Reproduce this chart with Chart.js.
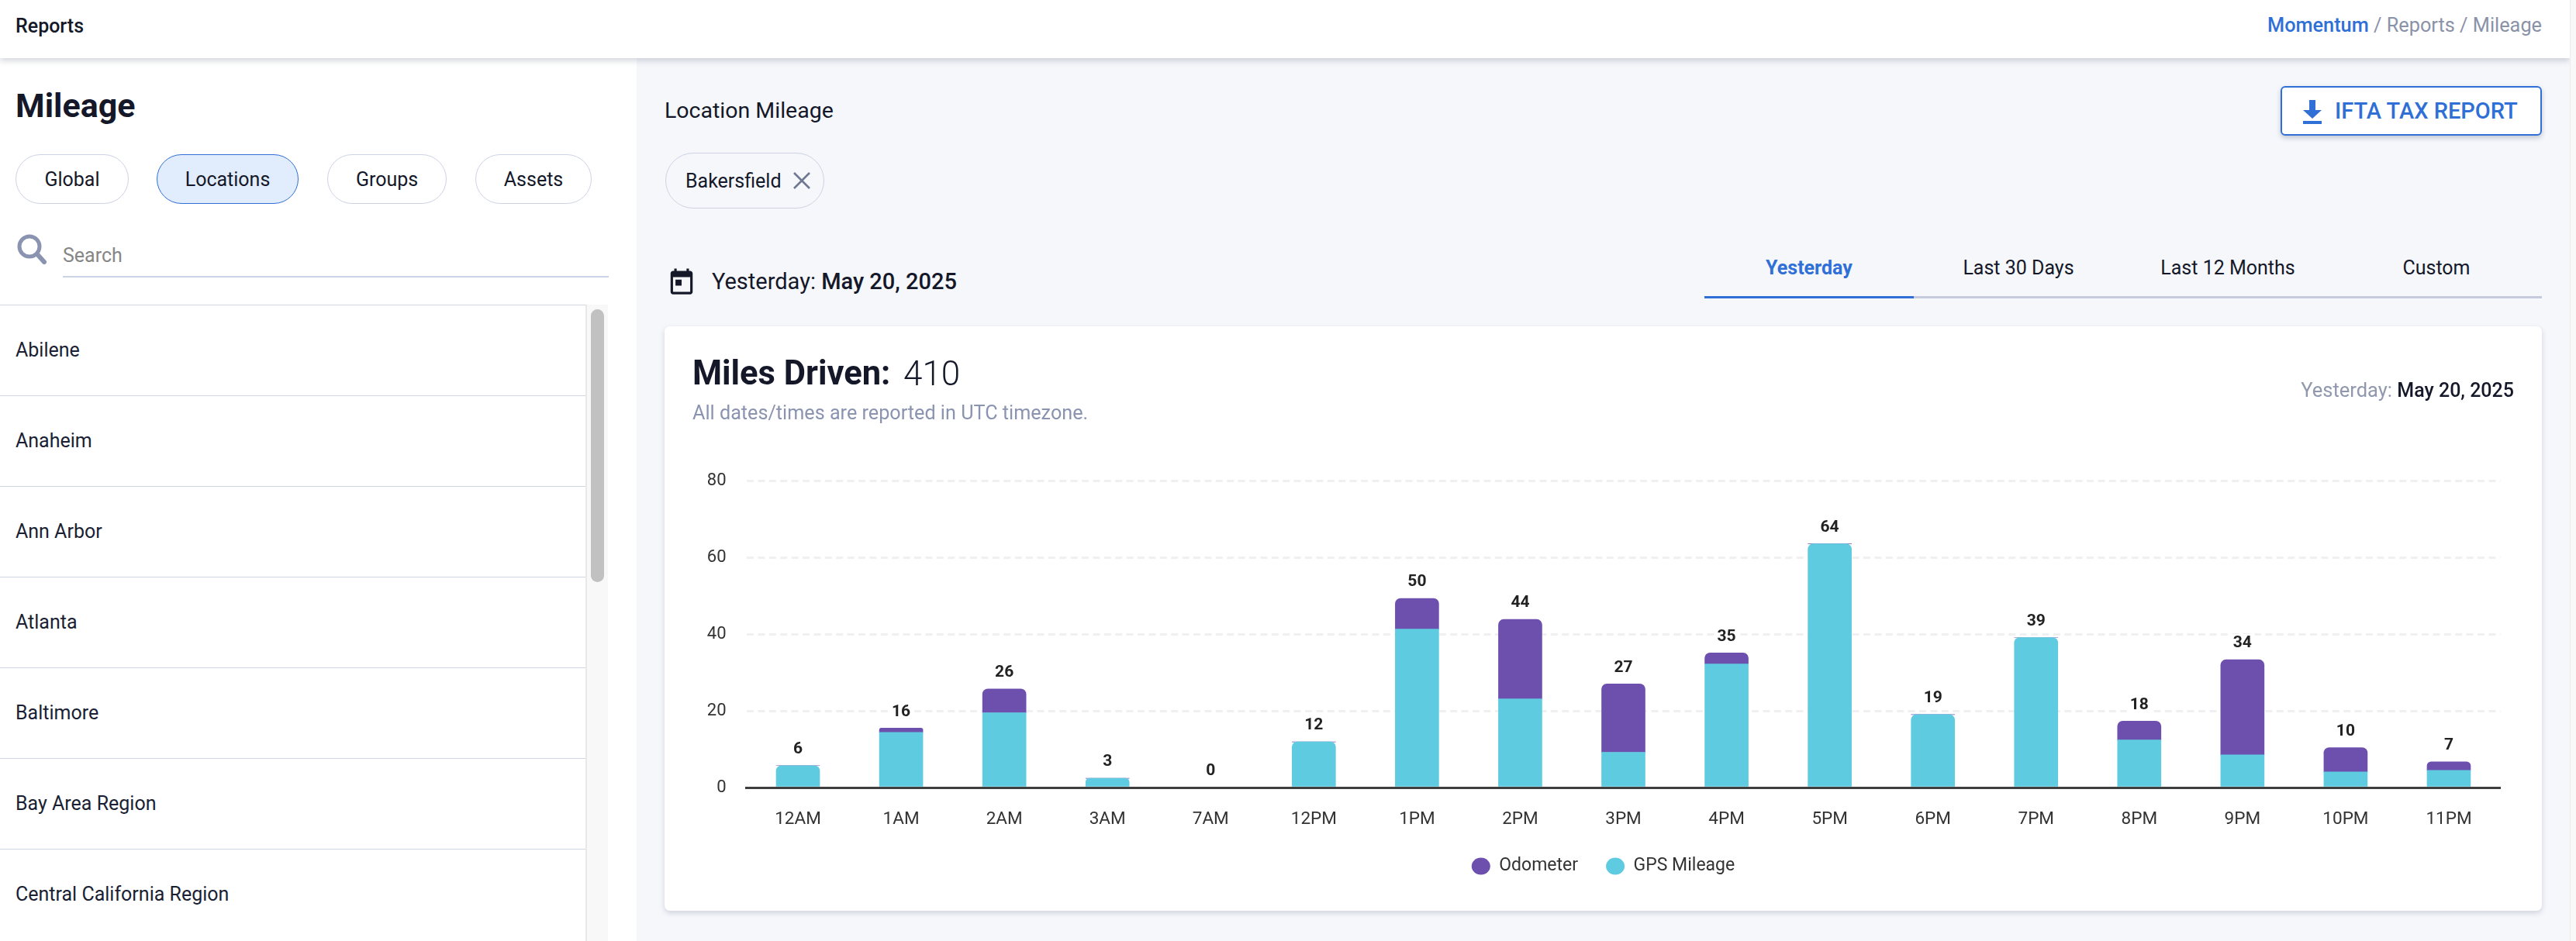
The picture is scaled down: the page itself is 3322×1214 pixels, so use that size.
<!DOCTYPE html>
<html><head><meta charset="utf-8">
<script src="https://cdn.jsdelivr.net/npm/chart.js@4"></script>
<style>
*{box-sizing:border-box}
html,body{margin:0;padding:0;width:3322px;height:1214px;overflow:hidden;background:#f5f7fb;font-family:Roboto,sans-serif;color:#141829}
.a{position:absolute;white-space:nowrap;line-height:1}
.cy{transform:translateY(-50%)}
.cc{transform:translate(-50%,-50%)}
#header{position:absolute;left:0;top:0;width:3314px;height:75px;background:#fff;box-shadow:0 3px 8px rgba(40,50,80,.22);z-index:3}
#edge{position:absolute;left:3314px;top:0;width:8px;height:1214px;background:#f8f8f8;border-left:1px solid #ececec;z-index:4}
#side{position:absolute;left:0;top:75px;width:821px;height:1139px;background:#fff}
.pill{position:absolute;top:199px;height:64px;border:1.5px solid #cdd3e5;border-radius:32px;background:#fff;font-size:25px;display:flex;align-items:center;justify-content:center}
.pill.on{background:#e1edfc;border-color:#2f6fd6}
.row{position:absolute;left:0;width:755px;height:117px;border-top:1.5px solid #cfd6e3;font-size:25px;padding:0 0 2px 20px;display:flex;align-items:center;background:#fff;color:#1a1f33}
#track{position:absolute;left:755px;top:393px;width:29px;height:821px;background:#f8f8f8;border-left:2px solid #e8e8e8}
#thumb{position:absolute;left:762px;top:399px;width:17px;height:352px;border-radius:9px;background:#c1c1c1}
#card{position:absolute;left:857px;top:421px;width:2421px;height:754px;background:#fff;border-radius:7px;box-shadow:0 3px 7px rgba(40,50,80,.18)}
#chartwrap{position:absolute;left:0;top:0;width:2421px;height:754px}
#btn{position:absolute;left:2941px;top:111px;width:337px;height:64px;background:#fff;border:2px solid #2f6fd6;border-radius:6px;box-shadow:0 3px 6px rgba(40,50,80,.25)}
#chip{position:absolute;left:858px;top:197px;width:205px;height:72px;border:1.5px solid #cdd3e5;border-radius:36px}
</style></head><body>
<div id="header"></div><div id="edge"></div>
<div class="a cy" style="left:20px;top:33px;font-size:25px;font-weight:500;z-index:4">Reports</div>
<div class="a cy" style="right:44px;top:33px;font-size:25.300px;color:#8a92a8;z-index:4"><span style="color:#2f6fd6;font-weight:500">Momentum</span> / Reports / Mileage</div>
<div id="side"></div>
<div class="a cy" style="left:20px;top:136px;font-size:43px;font-weight:700">Mileage</div>
<div class="pill" style="left:20px;width:146px">Global</div>
<div class="pill on" style="left:202px;width:183px">Locations</div>
<div class="pill" style="left:422px;width:154px">Groups</div>
<div class="pill" style="left:613px;width:150px">Assets</div>
<svg class="a" style="left:21px;top:301px" width="40" height="40" viewBox="0 0 40 40"><circle cx="17" cy="17" r="13" fill="none" stroke="#8a94b0" stroke-width="5"/><line x1="27" y1="27" x2="36" y2="37" stroke="#8a94b0" stroke-width="6" stroke-linecap="round"/></svg>
<div class="a cy" style="left:81px;top:329px;font-size:25px;color:#868686">Search</div>
<div class="a" style="left:81px;top:356px;width:704px;height:1.500px;background:#ccd3e6"></div>
<div id="rows"></div>
<div id="track"></div><div id="thumb"></div>

<div class="a cy" style="left:857px;top:143px;font-size:28.500px">Location Mileage</div>
<div id="btn"></div>
<svg class="a" style="left:2968px;top:127px" width="28" height="34" viewBox="0 0 28 34"><path d="M10 2h8v13h8L14 26 2 15h8z" fill="#2f6fd6"/><rect x="2" y="29" width="24" height="4" fill="#2f6fd6"/></svg>
<div class="a cy" style="left:3011px;top:143px;font-size:29px;font-weight:500;color:#2f6fd6">IFTA TAX REPORT</div>
<div id="chip"></div>
<div class="a cy" style="left:884px;top:233px;font-size:25px">Bakersfield</div>
<svg class="a" style="left:1022px;top:221px" width="24" height="24" viewBox="0 0 24 24"><path d="M2 2L22 22M22 2L2 22" stroke="#6f7890" stroke-width="2.600"/></svg>
<svg class="a" style="left:860px;top:343px" width="38" height="40" viewBox="0 0 24 25"><path d="M19 4h-1V2h-2v2H8V2H6v2H5C3.900 4 3 4.900 3 6v15c0 1.100.9 2 2 2h14c1.100 0 2-.9 2-2V6c0-1.100-.9-2-2-2zm0 17H5V9h14v12zM7 11h5v5H7z" fill="#141829"/></svg>
<div class="a cy" style="left:918px;top:363px;font-size:29px">Yesterday: <b style="font-weight:500">May 20, 2025</b></div>
<div class="a cc" style="left:2333px;top:345px;font-size:25px;font-weight:700;color:#2f6fd6">Yesterday</div>
<div class="a cc" style="left:2603px;top:345px;font-size:25px">Last 30 Days</div>
<div class="a cc" style="left:2873px;top:345px;font-size:25px">Last 12 Months</div>
<div class="a cc" style="left:3142px;top:345px;font-size:25px">Custom</div>
<div class="a" style="left:2198px;top:382px;width:1080px;height:3px;background:#c5cbdd"></div>
<div class="a" style="left:2198px;top:382px;width:270px;height:3px;background:#2f6fd6"></div>

<div id="card"><div id="chartwrap"><canvas id="c"></canvas></div></div>
<div class="a cy" style="left:893px;top:482px;font-size:43.500px;font-weight:700">Miles Driven:</div>
<div class="a cy" style="left:1165px;top:482px;font-size:44px;font-weight:300">410</div>
<div class="a cy" style="left:893px;top:533px;font-size:25.200px;color:#8a94b0">All dates/times are reported in UTC timezone.</div>
<div class="a cy" style="right:80px;top:504px;font-size:25.500px;color:#9098ae">Yesterday: <span style="color:#141829;font-weight:500;font-size:25px">May 20, 2025</span></div>

<script>
const listNames = ["Abilene","Anaheim","Ann Arbor","Atlanta","Baltimore","Bay Area Region","Central California Region"];
const hours = ["12AM","1AM","2AM","3AM","7AM","12PM","1PM","2PM","3PM","4PM","5PM","6PM","7PM","8PM","9PM","10PM","11PM"];
const gpsMileage = [5.7,14.4,19.5,2.4,0,11.9,41.3,23.1,9.2,32.2,63.5,19.0,39.1,12.4,8.5,4.1,4.5];
const odometer = [0,1.1,6.2,0,0,0,8.0,20.7,17.8,2.9,0,0,0,4.9,24.8,6.3,2.2];
const totalLabels = [6,16,26,3,0,12,50,44,27,35,64,19,39,18,34,10,7];
const yTicks = [0,20,40,60,80];

const rows = document.getElementById('rows');
listNames.forEach((n,i)=>{
  const d=document.createElement('div');d.className='row';d.textContent=n;d.style.top=(393+117*i)+'px';rows.appendChild(d);
});

const totalsPlugin = {
  id:'totals',
  afterDatasetsDraw(chart){
    const {ctx,scales:{y}}=chart;
    const meta=chart.getDatasetMeta(0);
    ctx.save();
    ctx.font='700 21px Roboto';
    ctx.textAlign='center';ctx.textBaseline='middle';
    totalLabels.forEach((t,i)=>{
      const top=y.getPixelForValue(gpsMileage[i]+odometer[i]);
      const x=meta.data[i].x, cy=top-21, s=String(t), w=ctx.measureText(s).width;
      ctx.fillStyle='#fff';ctx.fillRect(x-w/2-4,cy-12,w+8,24);
      ctx.fillStyle='#222';ctx.fillText(s,x,cy);
    });
    ctx.restore();
  }
};

function topRadius(isTop){
  return c=>{
    const i=c.dataIndex;
    const on = isTop ? odometer[i]>0 : odometer[i]===0;
    return on?{topLeft:7,topRight:7,bottomLeft:0,bottomRight:0}:0;
  };
}

new Chart(document.getElementById('c'),{
  type:'bar',
  data:{labels:hours,datasets:[
    {label:'GPS Mileage',data:gpsMileage,backgroundColor:'#5fcbe0',borderRadius:topRadius(false),borderSkipped:false,barThickness:56},
    {label:'Odometer',data:odometer,backgroundColor:'#6d50ae',borderRadius:topRadius(true),borderSkipped:false,barThickness:56}
  ]},
  plugins:[totalsPlugin],
  options:{
    responsive:true,maintainAspectRatio:false,animation:false,devicePixelRatio:1,
    layout:{autoPadding:false,padding:{left:53.500,right:53.500,top:199,bottom:36}},
    plugins:{
      tooltip:{enabled:false},
      legend:{position:'bottom',reverse:true,labels:{usePointStyle:true,boxHeight:15.5,pointStyleWidth:24,padding:36,color:'#333',font:{family:'Roboto',size:23}}}
    },
    scales:{
      x:{stacked:true,z:1,
        grid:{display:false,drawTicks:false},
        border:{display:true,color:'#3e3e3e',width:3,z:1},
        ticks:{color:'#333',padding:28,font:{family:'Roboto',size:22.500},maxRotation:0,autoSkip:false},
        afterFit(s){s.height=54;}
      },
      y:{stacked:true,min:0,max:80,
        afterBuildTicks(s){s.ticks=yTicks.map(v=>({value:v}));},
        grid:{color:'#f0f0f2',lineWidth:3,drawTicks:false},
        border:{display:false,dash:[9,5.400]},
        ticks:{color:'#333',padding:26,font:{family:'Roboto',size:22}},
        afterFit(s){s.width=52;}
      }
    }
  }
});
</script>
</body></html>
